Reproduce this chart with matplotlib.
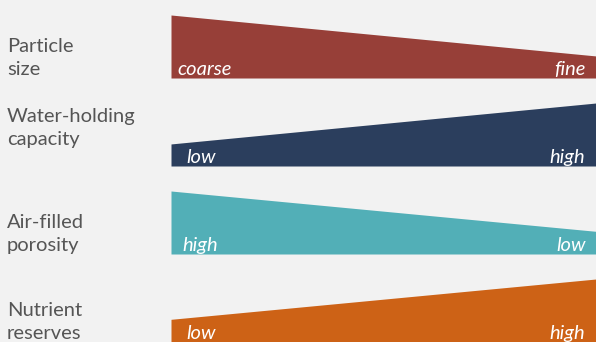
import matplotlib
matplotlib.use("Agg")
import matplotlib.pyplot as plt

# soil properties, drawn as wedges: relative height at the left / right end
features = ["Particle\nsize", "Water-holding\ncapacity", "Air-filled\nporosity", "Nutrient\nreserves"]
left_vals = [1.0, 0.35, 1.0, 0.36]
right_vals = [0.35, 1.0, 0.36, 1.0]
left_labels = ["coarse", "low", "high", "low"]
right_labels = ["fine", "high", "low", "high"]
colors = ["#973f38", "#2b3e5d", "#52afb7", "#cd6216"]

bg = "#f2f2f2"
row_h = 0.716          # wedge full height in row units
name_offset = [0.03, 0.24, 0.03, 0.03]   # label baseline above wedge baseline
left_pad = [0.016, 0.035, 0.026, 0.035]

fig = plt.figure(figsize=(5.96, 3.42), dpi=100, facecolor=bg)
ax = fig.add_axes([171 / 596, 0, 425 / 596, 327 / 342])
ax.set_facecolor(bg)
n = len(features)
top = n - 1 + row_h
for i, (name, lv, rv, ll, rl, c) in enumerate(
        zip(features, left_vals, right_vals, left_labels, right_labels, colors)):
    base = n - 1 - i
    ax.fill_between([0, 1], [base, base], [base + lv * row_h, base + rv * row_h],
                    color=c, lw=0)
    ax.text(left_pad[i], base + 0.03, ll, color="white", fontsize=14.5,
            style="italic", family="Lato", va="baseline", ha="left")
    ax.text(0.975, base + 0.03, rl, color="white", fontsize=14.5,
            style="italic", family="Lato", va="baseline", ha="right")
    fig.text(7 / 596, (base + name_offset[i]) / top * (327 / 342), name,
             color="#555555", fontsize=14.5, family="Lato",
             va="baseline", ha="left", linespacing=1.45)

ax.set_xlim(0, 1)
ax.set_ylim(0, top)
ax.axis("off")
fig.savefig("out.png", dpi=100, facecolor=bg)
